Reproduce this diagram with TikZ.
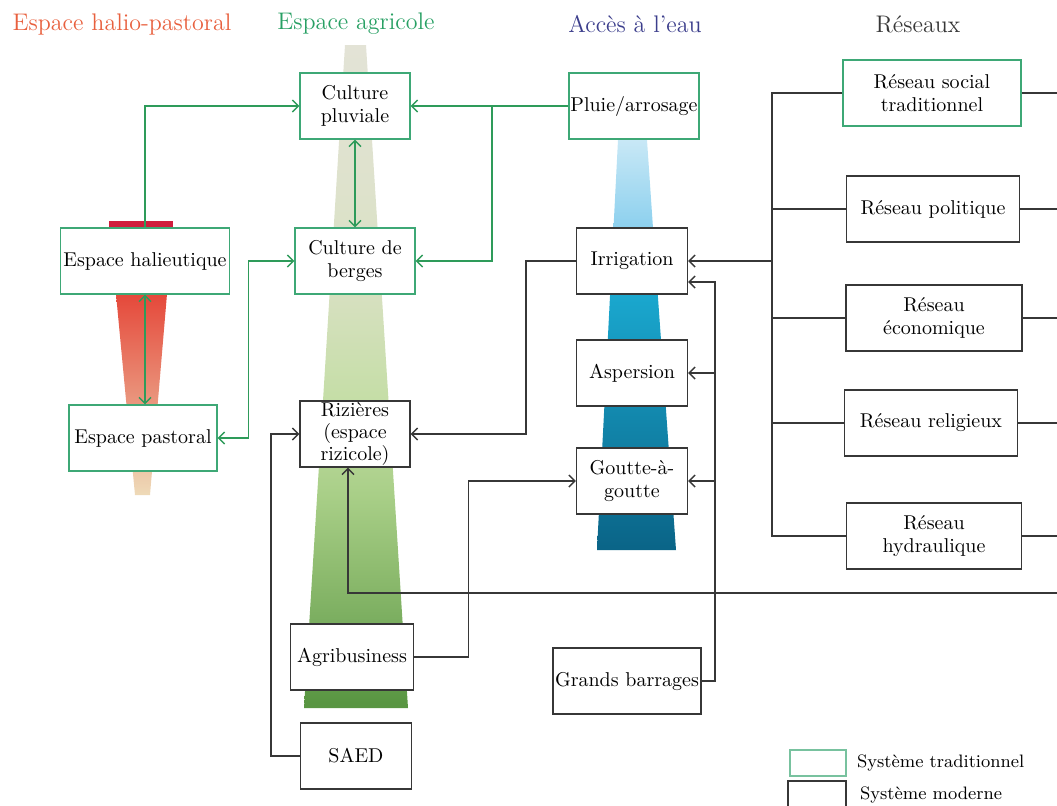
\documentclass[tikz,border=0pt]{standalone}
\usepackage{tikz}
\usetikzlibrary{positioning,arrows.meta}
\usepackage{xcolor}

\definecolor{tradgreen}{RGB}{62,168,118}
\definecolor{linkgreen}{RGB}{46,155,90}
\definecolor{modgray}{RGB}{55,55,55}
\definecolor{haliored}{RGB}{232,96,62}
\definecolor{agrigreen}{RGB}{40,160,100}
\definecolor{eaublue}{RGB}{60,62,140}
% bandes de fond
\definecolor{eautop}{RGB}{200,232,246}
\definecolor{eaumid}{RGB}{140,208,238}
\definecolor{eaucyan}{RGB}{30,185,225}
\definecolor{eaudeep}{RGB}{10,100,135}
\definecolor{haliocrimson}{RGB}{208,29,60}
\definecolor{haliotop}{RGB}{229,72,58}
\definecolor{haliomid}{RGB}{242,150,100}
\definecolor{haliobot}{RGB}{238,218,184}
\pgfdeclareverticalshading{agrishade}{100bp}{%
  rgb(0bp)=(0.35,0.59,0.26); rgb(25.5bp)=(0.35,0.59,0.26);
  rgb(30bp)=(0.45,0.66,0.35); rgb(35bp)=(0.55,0.73,0.43);
  rgb(41bp)=(0.66,0.81,0.53);
  rgb(48bp)=(0.77,0.87,0.65); rgb(56bp)=(0.84,0.88,0.75);
  rgb(64bp)=(0.87,0.886,0.80); rgb(75bp)=(0.89,0.89,0.84);
  rgb(100bp)=(0.89,0.89,0.84)}

\begin{document}
\begin{tikzpicture}[x=0.5pt, y=-0.5pt, >={Straight Barb[length=3pt,width=6pt]},
    trad/.style={rectangle, draw=tradgreen, line width=0.7pt, fill=white, minimum height=33pt, inner sep=0.5pt, align=center, font=\fontsize{10}{11.5}\selectfont},
    modern/.style={trad, draw=modgray},
    heading/.style={font=\fontsize{12}{14}\selectfont},
    legtext/.style={font=\fontsize{9}{10}\selectfont, inner sep=1pt},
    glink/.style={draw=linkgreen, line width=0.7pt},
    garrow/.style={glink, ->},
    gboth/.style={glink, <->},
    link/.style={draw=modgray, line width=0.7pt},
    arrow/.style={link, ->}]

\useasboundingbox (0,0) rectangle (1057,805);

% bandes
\shade[shading=agrishade] (345,45) -- (366,45) -- (408,708) -- (304,708) -- cycle;
\shade[top color=eautop, bottom color=eaumid] (618,140) -- (647,140) -- (653,228) -- (613.5,228) -- cycle;
\shade[top color=eaucyan, bottom color=eaudeep] (613.5,228) -- (653,228) -- (676,550) -- (597,550) -- cycle;
\fill[haliocrimson] (109,221) rectangle (173,229);
\shade[top color=haliotop, middle color=haliomid, bottom color=haliobot] (116,294) -- (167,294) -- (150,495) -- (135,495) -- cycle;

% titres
\node[heading, text=haliored] (hhalio) at (122,24) {Espace halio-pastoral};
\node[heading, text=agrigreen] (hagri) at (356,24) {Espace agricole};
\node[heading, text=eaublue] (heau) at (635,24) {Accès à l’eau};
\node[heading, text=modgray] (hres) at (918,24) {Réseaux};

% noeuds
\node[trad, minimum width=55pt] (cplu) at (355,106) {Culture\\pluviale};
\node[trad, minimum width=65pt] (pluie) at (634,106) {Pluie/arrosage};
\node[trad, minimum width=89pt] (rsoc) at (932,93) {Réseau social\\traditionnel};
\node[trad, minimum width=84.5pt] (hal) at (145,261) {Espace halieutique};
\node[trad, minimum width=60pt] (cber) at (355,261) {Culture de\\berges};
\node[modern, minimum width=55.5pt] (irr) at (632,261) {Irrigation};
\node[modern, minimum width=86.5pt] (rpol) at (933,209) {Réseau politique};
\node[modern, minimum width=88pt] (reco) at (934,318) {Réseau\\économique};
\node[modern, minimum width=55.5pt] (asp) at (632,373) {Aspersion};
\node[trad, minimum width=74pt] (past) at (143,438) {Espace pastoral};
\node[modern, minimum width=55pt, font=\fontsize{10}{10.8}\selectfont, inner ysep=0pt] (riz) at (355,434) {Rizières\\(espace\\rizicole)};
\node[modern, minimum width=86.5pt] (rrel) at (931,423) {Réseau religieux};
\node[modern, minimum width=55.5pt] (gag) at (632,481) {Goutte-à-\\goutte};
\node[modern, minimum width=87.5pt] (rhyd) at (934,536) {Réseau\\hydraulique};
\node[modern, minimum width=61.5pt] (agri) at (352,657) {Agribusiness};
\node[modern, minimum width=74pt] (gbar) at (627,681) {Grands barrages};
\node[modern, minimum width=55.5pt] (saed) at (356,756) {SAED};

% legende
\node[trad, draw=tradgreen!70, minimum width=28pt, minimum height=13pt] (legtrad) at (818,763) {};
\node[modern, minimum width=29pt, minimum height=14pt] (legmod) at (817,795) {};
\node[legtext, right=4pt of legtrad] (legtradtxt) {Système traditionnel};
\node[legtext, right=5.5pt of legmod] (legmodtxt) {Système moderne};

% liens traditionnels
\draw[garrow] (hal.north) |- (cplu.west);
\draw[garrow] (pluie.west) -- (cplu.east);
\coordinate (gsplit) at (492,106);
\draw[garrow] (gsplit) |- (cber.east);
\draw[gboth] (cplu.south) -- (cber.north);
\draw[gboth] (hal.south) -- (hal.south |- past.north);
\draw[gboth] (past.east) -- ++(31,0) |- (cber.west);

% reseaux
\coordinate (bus) at (772,0);
\coordinate (edge) at (1057,0);
\draw[link] (rsoc.west) -| (bus |- rhyd.west) -- (rhyd.west);
\foreach \r in {rpol, reco, rrel}
  \draw[link] (\r.west) -- (\r.west -| bus);
\foreach \r in {rsoc, rpol, reco, rrel, rhyd}
  \draw[link] (\r.east) -- (\r.east -| edge);
\draw[arrow] (irr.east -| bus) -- (irr.east);
\coordinate (rback) at (1057,593);
\draw[arrow] (rback) -| ([xshift=-3.5pt]riz.south);

% liens modernes
\draw[arrow] (irr.west) -- ++(-50,0) |- (riz.east);
\coordinate (dtop) at (715,282);
\draw[arrow] (gbar.east) -| (dtop) -- (dtop -| irr.east);
\draw[arrow] (asp.east -| dtop) -- (asp.east);
\draw[arrow] (gag.east -| dtop) -- (gag.east);
\draw[arrow] (agri.east) -- ++(54,0) |- (gag.west);
\draw[arrow] (saed.west) -- ++(-29,0) |- (riz.west);
\end{tikzpicture}
\end{document}
